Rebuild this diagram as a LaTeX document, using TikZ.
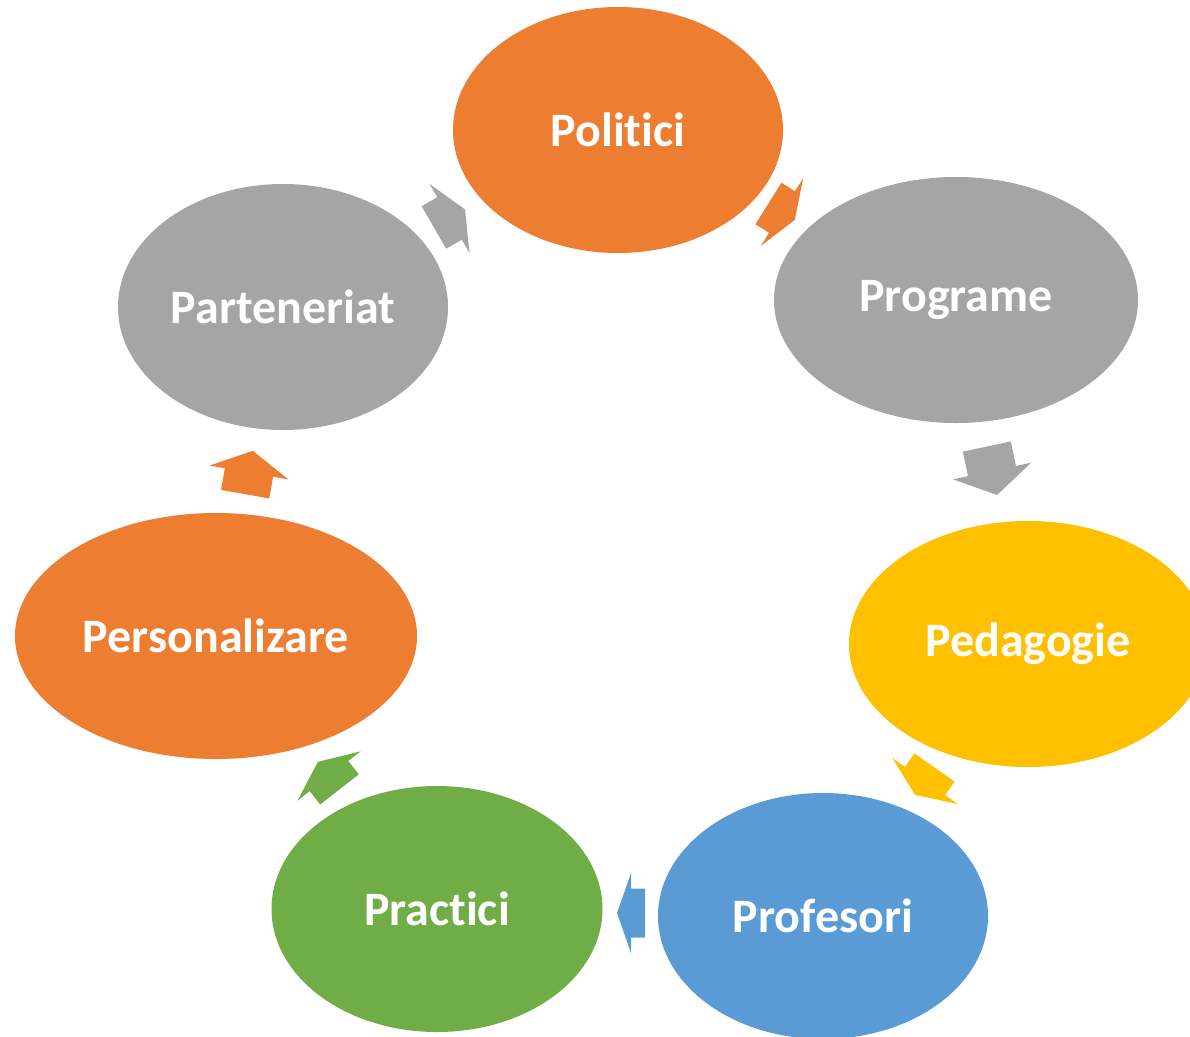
\documentclass[tikz,border=0pt]{standalone}
\usepackage{fontspec}
\setmainfont{Carlito}[Ligatures=NoCommon]
\usetikzlibrary{shapes.geometric}
\definecolor{orng}{HTML}{ED7D31}
\definecolor{gry}{HTML}{A5A5A5}
\definecolor{ylw}{HTML}{FFC000}
\definecolor{blu}{HTML}{5B9BD5}
\definecolor{grn}{HTML}{70AD47}
\tikzset{
  stage/.style={ellipse, minimum height=246pt, inner sep=0pt, text=white,
    font=\bfseries\fontsize{48}{52}\selectfont},
}
% block arrow: at, angle, shaft length, head length, colour
\newcommand{\cyclearrow}[5]{%
  \fill[#5, shift={(#1)}, rotate=#2]
    (-#3,-24.5) -- (0,-24.5) -- (0,-40) -- (#4,0) -- (0,40) -- (0,24.5) -- (-#3,24.5) -- cycle;}
\begin{document}
\begin{tikzpicture}[x=1pt,y=-1pt]
      \useasboundingbox (0,0) rectangle (1190,1036);
      \draw
        (618,130) node[stage, fill=orng, minimum width=330pt] (politici){Politici}
        (956,300) node[stage, fill=gry, minimum width=364pt] (programe){Programe}
        (1028,644) node[stage, fill=ylw, minimum width=358pt] (pedagogie){Pedagogie}
        (823,916) node[stage, fill=blu, minimum width=330pt] (profesori){Profesori}
        (437,909) node[stage, fill=grn, minimum width=331pt] (practici){Practici}
        (216,636) node[stage, fill=orng, minimum width=402pt] (personalizare){Personalizare}
        (283,307) node[stage, fill=gry, minimum width=330pt] (parteneriat){Parteneriat};
      \coordinate (a1) at (782,212);
      \coordinate (a2) at (992,471);
      \coordinate (a3) at (925,781);
      \coordinate (a4) at (631,913);
      \coordinate (a5) at (329,776);
      \coordinate (a6) at (249,472.5);
      \coordinate (a7) at (449.5,218.5);
      \cyclearrow{a1}{-32}{16}{15}{orng}
      \cyclearrow{a2}{-78}{25}{24.5}{gry}
      \cyclearrow{a3}{-125}{16.5}{17}{ylw}
      \cyclearrow{a4}{180}{14}{14}{blu}
      \cyclearrow{a5}{128}{17}{18}{grn}
      \cyclearrow{a6}{80}{22}{22}{orng}
      \cyclearrow{a7}{30}{18}{18}{gry}
    \end{tikzpicture}
\end{document}
